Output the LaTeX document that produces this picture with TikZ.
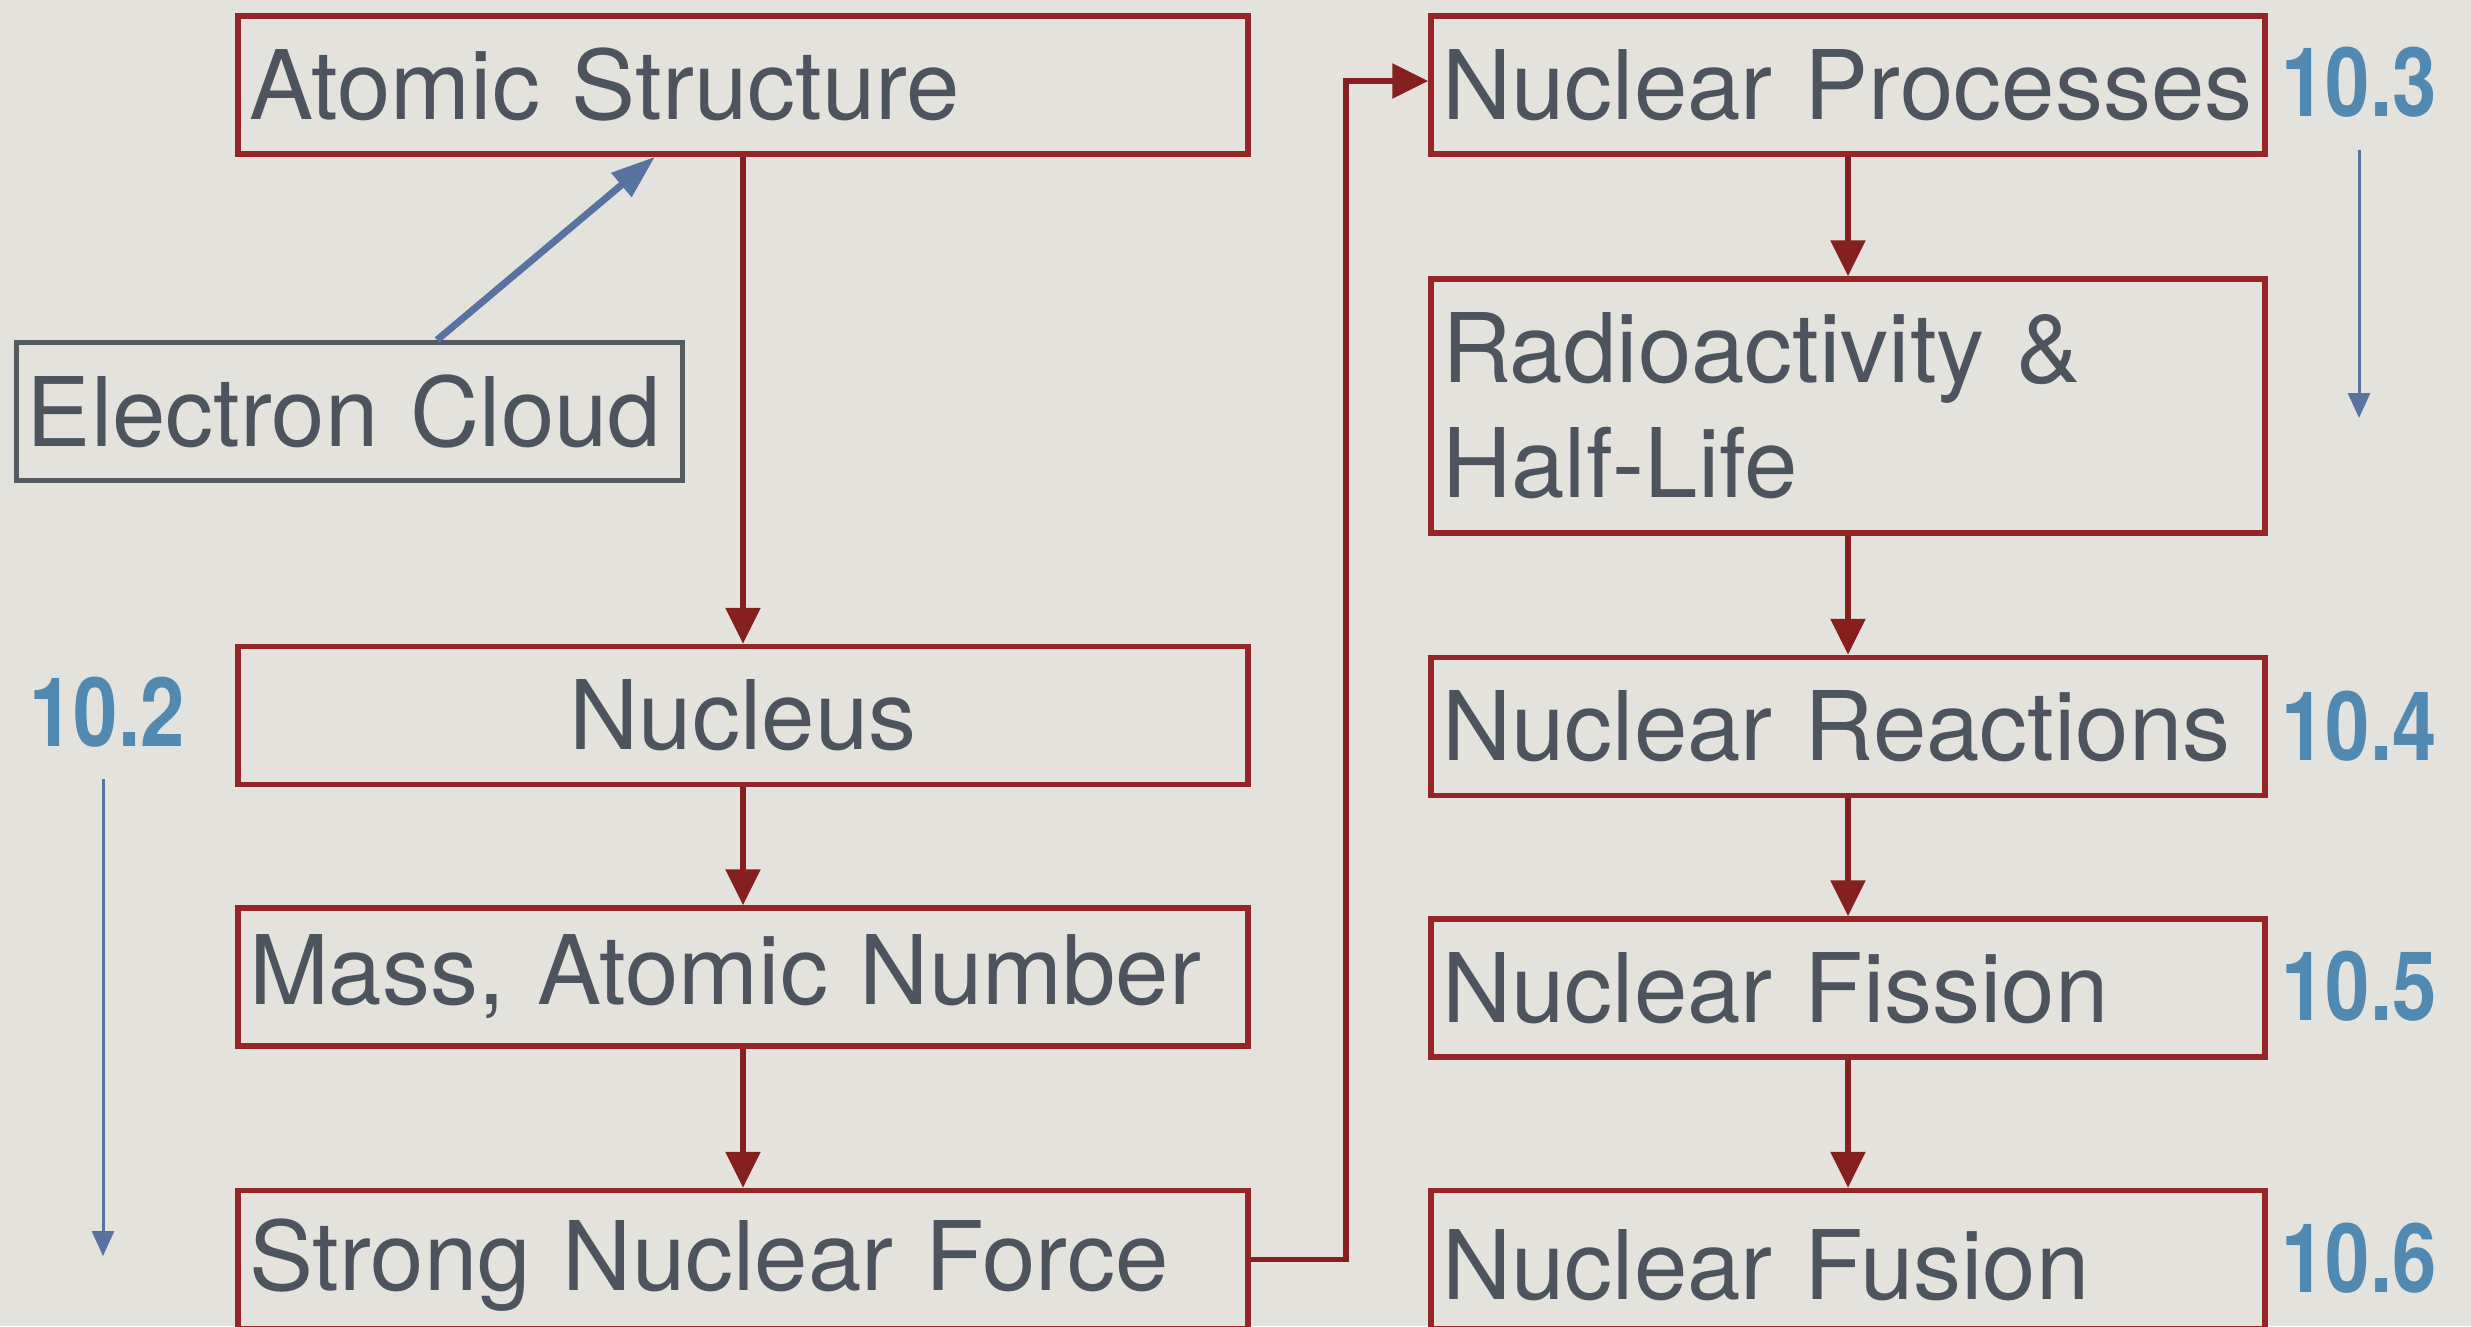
\documentclass[tikz,border=0pt]{standalone}
\usepackage{fontspec}
\setmainfont{TeX Gyre Heros}
\usepackage{graphicx}
\usetikzlibrary{arrows.meta}
\definecolor{bg}{HTML}{E3E2DC}
\definecolor{boxred}{HTML}{952628}
\definecolor{arrred}{HTML}{85201F}
\definecolor{txt}{HTML}{4D545D}
\definecolor{lblblue}{HTML}{5189B0}
\definecolor{arrblue}{HTML}{5873A0}
\definecolor{graybox}{HTML}{535A62}
\begin{document}
\begin{tikzpicture}[x=1pt,y=-1pt,
  box/.style={draw=boxred, line width=5.5pt, text=txt, font=\fontsize{96}{115}\selectfont,
    inner xsep=11pt, inner ysep=0pt, align=left, minimum height=138pt},
  lbox/.style={box, text width=988pt, minimum width=1010pt},
  rbox/.style={box, text width=812pt, minimum width=834pt},
  gbox/.style={box, draw=graybox, line width=5pt, text width=644pt, minimum width=666pt},
  lbl/.style={text=lblblue, inner sep=0pt, font=\fontsize{96}{115}\selectfont\bfseries},
  redarr/.style={draw=arrred, line width=5.5pt, -{Triangle[length=36pt,width=34pt]}},
  bluearr/.style={draw=arrblue, line width=3pt, -{Triangle[length=25pt,width=22pt]}},
  ecarr/.style={draw=arrblue, line width=7pt, -{Triangle[length=44pt,width=30pt]}}
]
\useasboundingbox (0,0) rectangle (2471,1326);
\clip (0,0) rectangle (2471,1326);
\fill[bg] (0,0) rectangle (2471,1326);

% left column
\node[lbox] (as) at (743,85) {\mbox{Atomic Structure}};
\node[gbox] (ec) at (349,411.5) {\mbox{Electron Cloud}};
\node[lbox, align=center] (nu) at (743,715.5) {\mbox{Nucleus}};
\node[lbox] (ma) at (743,977) {\mbox{Mass, Atomic Number}};
\node[lbox] (sn) at (743,1259.5) {\raisebox{-6pt}[\height][\depth]{Strong Nuclear Force}};

% right column
\node[rbox] (np) at (1848,85) {\mbox{Nuclear Processes}};
\node[rbox, minimum height=254pt] (ra) at (1848,406) {Radioactivity \&\\Half-Life};
\node[rbox] (nr) at (1848,726.5) {\mbox{Nuclear Reactions}};
\node[rbox] (nfi) at (1848,988) {\mbox{Nuclear Fission}};
\node[rbox] (nfu) at (1848,1259.5) {\raisebox{-6pt}[\height][\depth]{Nuclear Fusion}};

% section labels
\node[lbl] (l102) at (107,712) {\scalebox{0.83}[1]{10.2}};
\node[lbl] (l103) at (2359,82) {\scalebox{0.83}[1]{10.3}};
\node[lbl] (l104) at (2359,726) {\scalebox{0.83}[1]{10.4}};
\node[lbl] (l105) at (2359,986) {\scalebox{0.83}[1]{10.5}};
\node[lbl] (l106) at (2359,1258) {\scalebox{0.83}[1]{10.6}};

\coordinate (e102) at (103,1256);
\coordinate (e103) at (2359,418);

% connectors
\draw[redarr] (as.south) -- (nu.north);
\draw[redarr] (nu.south) -- (ma.north);
\draw[redarr] (ma.south) -- (sn.north);
\draw[redarr] (sn.east) -- ++(95,0) |- ([yshift=4pt]np.west);
\draw[redarr] (np.south) -- (ra.north);
\draw[redarr] (ra.south) -- (nr.north);
\draw[redarr] (nr.south) -- (nfi.north);
\draw[redarr] (nfi.south) -- (nfu.north);
\draw[ecarr] ([xshift=88pt]ec.north) -- ([xshift=-88pt]as.south);
\draw[bluearr] ([xshift=-4pt,yshift=-32pt]l102.south) -- (e102);
\draw[bluearr] ([yshift=-33pt]l103.south) -- (e103);
\end{tikzpicture}
\end{document}
